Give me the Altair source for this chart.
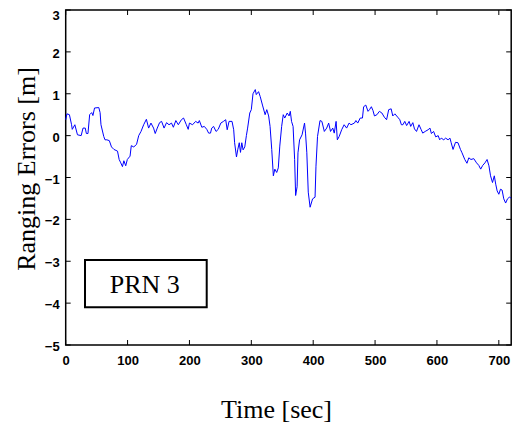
import altair as alt
import pandas as pd

time_sec = [
    0, 2, 6, 9.5, 10.6, 14.8, 19, 25, 28, 31.6, 33.4, 36, 38.7, 42, 44, 46.6, 53.5, 55.6, 57, 61.5,
    63.5, 66.5, 70.5, 74, 78, 83.7, 86.4, 89, 91.7, 94, 97, 99.6, 104, 106, 110, 114.5, 118, 121.7, 126, 130.4,
    134, 137.8, 142, 144.7, 148, 151.7, 155, 159, 163, 167, 171, 174, 178, 182, 187, 190.5, 195, 198, 200, 205,
    210, 214, 216, 220, 224, 228, 231, 234, 236, 239, 243, 246.5, 250.7, 255, 258.6, 261, 264, 268.8, 271.5, 273,
    276, 278, 280.5, 282.5, 284.6, 286.7, 289.4, 292, 294, 297.5, 300, 302.7, 306.4, 308, 311.7, 314.4, 318, 322.3, 325, 328,
    330.3, 333, 335.6, 338, 341, 343.6, 346, 349, 351.6, 354, 358, 361, 363, 365, 367.5, 370, 371.6, 374, 375.4, 378,
    382, 386, 387.6, 389.7, 392, 395, 399, 403, 404.5, 407, 411, 414, 418, 421.8, 425, 428, 431.6, 434, 437, 439,
    442, 446, 450, 454, 458, 461, 466.6, 469, 472, 476, 479.6, 481.5, 485, 488.6, 491, 494, 496.6, 499, 503, 507,
    511, 515, 518.6, 522, 526, 528.6, 532, 536.6, 540, 542.5, 545, 548, 551, 555, 557.6, 561, 563.7, 567, 571, 574.6,
    577, 581, 585.7, 588.7, 591, 594.6, 598, 602, 604.4, 607, 611, 614, 618, 621, 623, 626, 630, 634, 638, 640.5,
    645, 648.5, 651.5, 655, 659.5, 664, 667.6, 670.7, 674, 677.6, 681, 684, 686.6, 689.8, 692.7, 695, 697.3, 700, 702.7, 705.3,
    708, 711, 714, 717, 720,
]
ranging_error = [
    0.38, 0.52, 0.5, 0.26, 0.15, 0.26, 0.02, 0.0, 0.18, 0.18, 0.05, 0.05, 0.5, 0.55, 0.48, 0.66, 0.67, 0.55, 0.26, -0.02,
    -0.1, -0.1, -0.12, -0.27, -0.33, -0.37, -0.57, -0.65, -0.74, -0.6, -0.72, -0.57, -0.49, -0.24, -0.27, -0.21, 0.0, 0.1, 0.26, 0.39,
    0.18, 0.3, 0.18, 0.05, 0.18, 0.31, 0.34, 0.18, 0.31, 0.26, 0.3, 0.2, 0.36, 0.26, 0.38, 0.42, 0.26, 0.15, 0.3, 0.26,
    0.34, 0.3, 0.36, 0.2, 0.22, 0.15, 0.06, 0.06, 0.18, 0.22, 0.1, 0.15, 0.3, 0.34, 0.38, 0.14, 0.34, 0.34, 0.14, -0.17,
    -0.51, -0.34, -0.17, -0.4, -0.17, -0.34, -0.27, 0.0, 0.18, 0.54, 0.62, 1.0, 1.1, 0.98, 1.05, 0.93, 0.73, 0.5, 0.62, 0.47,
    0.22, -0.33, -0.96, -0.8, -0.88, -0.77, -0.25, 0.22, 0.5, 0.42, 0.54, 0.47, 0.58, 0.34, 0.22, -0.57, -1.43, -1.22, -0.41, -0.1,
    0.02, 0.3, 0.06, -0.41, -1.35, -1.71, -1.51, -1.47, -0.73, -0.02, 0.36, 0.34, 0.1, 0.18, 0.3, 0.1, 0.18, 0.06, 0.34, -0.1,
    -0.02, 0.14, 0.26, 0.18, 0.3, 0.26, 0.3, 0.36, 0.3, 0.42, 0.42, 0.69, 0.73, 0.58, 0.62, 0.69, 0.6, 0.47, 0.5, 0.58,
    0.54, 0.44, 0.38, 0.62, 0.64, 0.47, 0.52, 0.44, 0.38, 0.26, 0.26, 0.34, 0.24, 0.34, 0.22, 0.31, 0.16, 0.1, 0.26, 0.14,
    0.06, 0.1, 0.14, 0.18, 0.05, 0.1, -0.03, 0.0, -0.1, -0.06, -0.1, -0.06, -0.1, -0.06, -0.17, -0.33, -0.16, -0.17, -0.33, -0.41,
    -0.57, -0.66, -0.53, -0.57, -0.55, -0.65, -0.71, -0.8, -0.71, -0.65, -0.57, -0.72, -0.96, -1.12, -0.96, -1.16, -1.32, -1.4, -1.28, -1.3,
    -1.51, -1.61, -1.51, -1.47, -1.49,
]
assert len(time_sec) == len(ranging_error)

x_ticks = [0, 100, 200, 300, 400, 500, 600, 700]
y_ticks = [-5, -4, -3, -2, -1, 0, 1, 2, 3]
annotation = "PRN 3"

W, H = 445.5, 335

df = pd.DataFrame({"t": time_sec, "e": ranging_error})
xt = pd.DataFrame({"v": x_ticks})
yt = pd.DataFrame({"v": y_ticks})

xscale = alt.Scale(domain=[0, 720], nice=False, zero=False)
yscale = alt.Scale(domain=[-5, 3], nice=False, zero=False)

xaxis = alt.Axis(
    values=x_ticks, title="Time [sec]", grid=False, ticks=False, tickSize=0, domain=False,
    labelFont="Liberation Sans", labelFontWeight="bold", labelFontSize=13, labelColor="black",
    labelPadding=9, labelFlush=False,
    titleFont="Liberation Serif", titleFontWeight="normal", titleFontSize=26, titleColor="black",
    titleX=210.3, titleY=72, titleBaseline="alphabetic", titleAlign="center", titleAngle=0,
)
yaxis = alt.Axis(
    values=y_ticks, title="Ranging Errors [m]", grid=False, ticks=False, tickSize=0, domain=False,
    labelFont="Liberation Sans", labelFontWeight="bold", labelFontSize=13, labelColor="black",
    labelPadding=6.5,
    labelOffset={"condition": {"test": "datum.value == 3", "value": 5}, "value": 1.5},
    labelFlush=False,
    titleFont="Liberation Serif", titleFontWeight="normal", titleFontSize=26, titleColor="black",
    titleX=-31.4, titleY=158.5, titleBaseline="alphabetic", titleAlign="center", titleAngle=270,
)

line = alt.Chart(df).mark_line(color="#0000ff", strokeWidth=1).encode(
    x=alt.X("t:Q", scale=xscale, axis=xaxis),
    y=alt.Y("e:Q", scale=yscale, axis=yaxis),
)

tick_len = 5
bottom_ticks = alt.Chart(xt).mark_rule(color="black", strokeWidth=1).encode(
    x=alt.X("v:Q", scale=xscale), y=alt.value(H), y2=alt.value(H - tick_len))
top_ticks = alt.Chart(xt).mark_rule(color="black", strokeWidth=1).encode(
    x=alt.X("v:Q", scale=xscale), y=alt.value(0), y2=alt.value(tick_len))
left_ticks = alt.Chart(yt).mark_rule(color="black", strokeWidth=1).encode(
    y=alt.Y("v:Q", scale=yscale), x=alt.value(0), x2=alt.value(tick_len))
right_ticks = alt.Chart(yt).mark_rule(color="black", strokeWidth=1).encode(
    y=alt.Y("v:Q", scale=yscale), x=alt.value(W), x2=alt.value(W - tick_len))

box = alt.Chart(pd.DataFrame({"label": [annotation]})).mark_rect(
    fill="white", stroke="black", strokeWidth=2
).encode(
    x=alt.datum(31.2, scale=xscale), x2=alt.datum(227.9),
    y=alt.datum(-2.97, scale=yscale), y2=alt.datum(-4.10),
)
box_text = alt.Chart(pd.DataFrame({"label": [annotation]})).mark_text(
    font="Liberation Serif", fontSize=26, color="black", align="center", baseline="alphabetic"
).encode(
    x=alt.datum(127.7, scale=xscale), y=alt.datum(-3.75, scale=yscale), text="label:N",
)

chart = alt.layer(
    line, bottom_ticks, top_ticks, left_ticks, right_ticks, box, box_text
).properties(
    width=W, height=H,
    padding={"left": 57.7, "top": 2, "right": 0.8, "bottom": 77},
    autosize=alt.AutoSizeParams(type="none"),
    background="white",
).configure_view(stroke="black", strokeWidth=1.5)

chart.save("out.html", embed_options={"renderer": "svg", "actions": False})
